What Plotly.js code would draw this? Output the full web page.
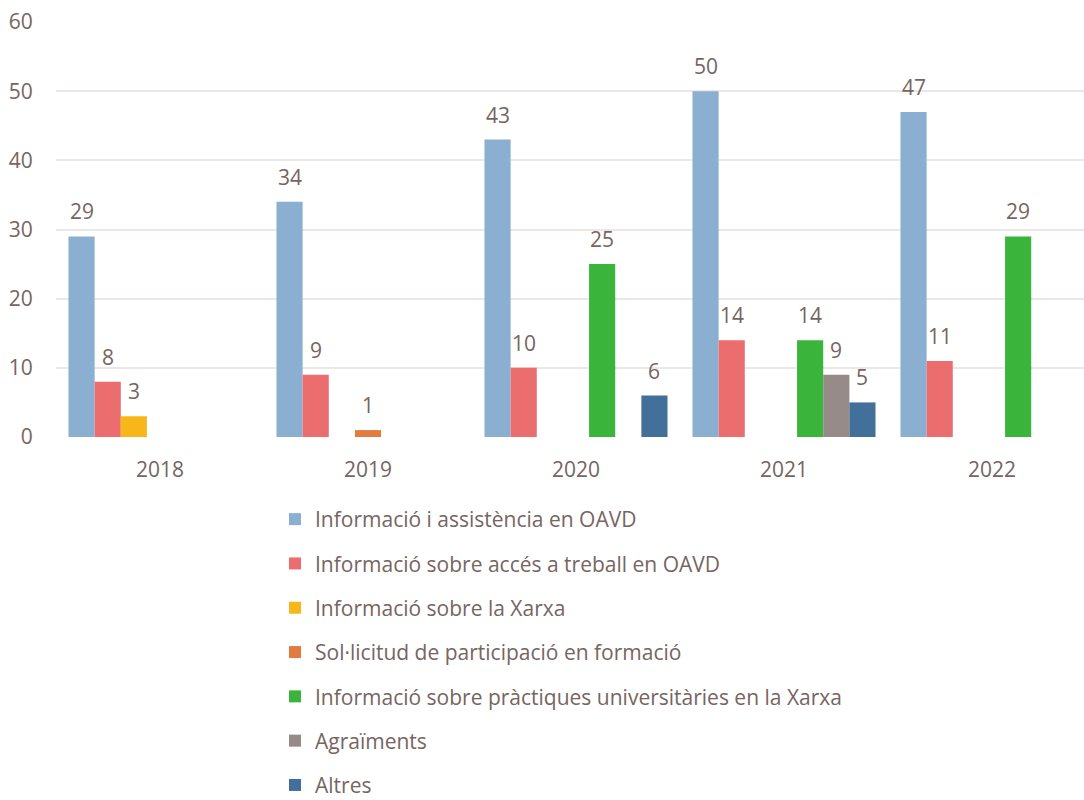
<!DOCTYPE html>
<html>
<head>
<meta charset="utf-8">
<script src="https://cdn.plot.ly/plotly-3.0.1.min.js"></script>
<style>html,body{margin:0;padding:0;background:#fff;overflow:hidden}#chart{width:1084px;height:800px}</style>
</head>
<body>
<div id="chart"></div>
<script>
const years = ['2018', '2019', '2020', '2021', '2022'];
const seriesNames = [
  'Informació i assistència en OAVD',
  'Informació sobre accés a treball en OAVD',
  'Informació sobre la Xarxa',
  'Sol·licitud de participació en formació',
  'Informació sobre pràctiques universitàries en la Xarxa',
  'Agraïments',
  'Altres'
];
const assistencia = [29, 34, 43, 50, 47];
const treball = [8, 9, 10, 14, 11];
const xarxa = [3, 0, 0, 0, 0];
const formacio = [0, 1, 0, 0, 0];
const practiques = [0, 0, 25, 14, 29];
const agraiments = [0, 0, 0, 9, 0];
const altres = [0, 0, 6, 5, 0];
const yTicks = [0, 10, 20, 30, 40, 50, 60];

const seriesValues = [assistencia, treball, xarxa, formacio, practiques, agraiments, altres];
const colors = ['#8bafd0', '#eb6d6d', '#f7b719', '#e07c40', '#3bb43b', '#968b89', '#42709a'];
const textColor = '#766560';
const fontFamily = '"Open Sans", "Segoe UI", sans-serif';
const fontSize = 21;

const W = 1084, H = 800;
const margin = {l: 56, r: 0, t: 22, b: 363};
const catPx = 208;
const plotW = W - margin.l - margin.r;
const bargap = 0.12;
const barW = catPx * (1 - bargap) / seriesNames.length;

const traces = seriesNames.map((name, i) => ({
  type: 'bar',
  name: name,
  x: years,
  y: seriesValues[i],
  marker: {color: colors[i], line: {width: 0}},
  legendgroup: 'g' + i,
  hoverinfo: 'x+y+name'
}));

const annotations = [];
seriesValues.forEach((vals, i) => {
  vals.forEach((v, j) => {
    if (v > 0) {
      annotations.push({
        x: j, y: v, xref: 'x', yref: 'y',
        text: String(v), showarrow: false,
        xanchor: 'center', yanchor: 'bottom',
        xshift: (i - (seriesNames.length - 1) / 2) * barW,
        yshift: 9,
        font: {family: fontFamily, size: fontSize, color: textColor}
      });
    }
  });
});

const layout = {
  width: W, height: H,
  margin: margin,
  paper_bgcolor: '#ffffff',
  plot_bgcolor: '#ffffff',
  font: {family: fontFamily, size: fontSize, color: textColor},
  barmode: 'group',
  bargap: bargap,
  bargroupgap: 0,
  showlegend: true,
  xaxis: {
    type: 'category',
    range: [-0.5, -0.5 + plotW / catPx],
    showgrid: false,
    zeroline: false,
    showline: false,
    ticks: 'outside', ticklen: 14, tickcolor: 'rgba(0,0,0,0)',
    tickfont: {family: fontFamily, size: fontSize, color: textColor},
    fixedrange: true
  },
  yaxis: {
    range: [0, 60],
    tickvals: yTicks,
    showgrid: true,
    gridcolor: '#ece6e4',
    gridwidth: 2,
    zeroline: false,
    showline: false,
    ticks: 'outside', ticklen: 18, tickcolor: 'rgba(0,0,0,0)',
    tickfont: {family: fontFamily, size: fontSize, color: textColor},
    fixedrange: true
  },
  legend: {
    orientation: 'v',
    xref: 'paper',
    x: (275 - margin.l) / plotW,
    xanchor: 'left',
    yref: 'container',
    y: 1 - 499 / H,
    yanchor: 'top',
    tracegroupgap: 14,
    font: {family: fontFamily, size: fontSize, color: textColor},
    bgcolor: 'rgba(0,0,0,0)'
  },
  annotations: annotations
};

Plotly.newPlot('chart', traces, layout, {displayModeBar: false, staticPlot: true});
</script>
</body>
</html>
